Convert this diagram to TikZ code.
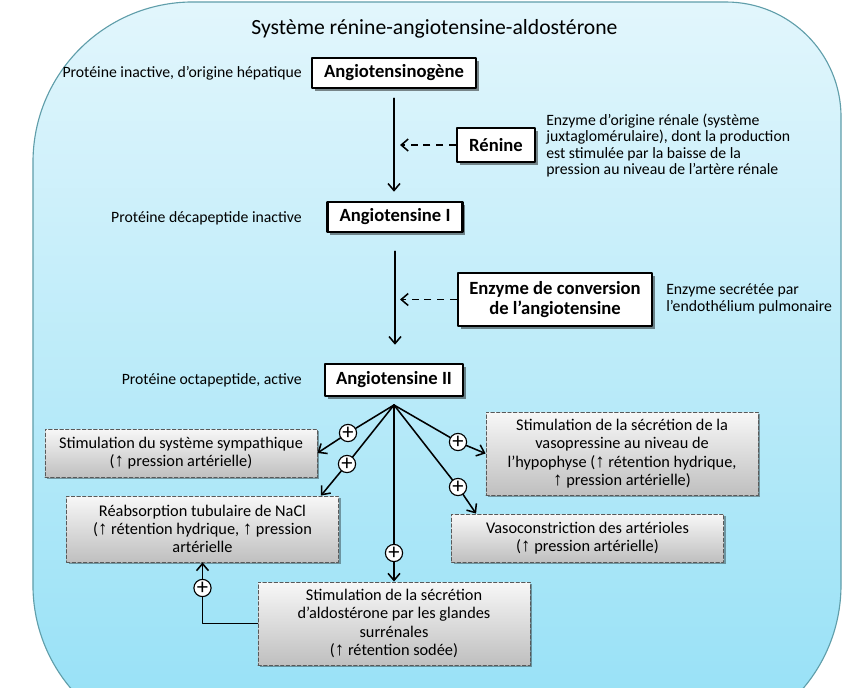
\documentclass[tikz,border=0pt]{standalone}
\usepackage{fontspec}
\setmainfont{Carlito}
\newfontfamily\arrowfont{Liberation Sans}[Scale=1.15]
\usetikzlibrary{arrows.meta,positioning,shadows,calc}
\definecolor{raasSkyTop}{RGB}{226,246,252}
\definecolor{raasSkyBot}{RGB}{148,224,246}
\definecolor{raasEdge}{RGB}{96,158,170}
\newcommand{\hausse}{{\arrowfont ↑}}

\begin{document}
\begin{tikzpicture}[x=0.025cm, y=-0.025cm, line cap=round, line join=round,
    mainbox/.style={draw=black, line width=1.8pt, fill=white, inner sep=0pt, align=center,
      font=\bfseries\fontsize{13.25}{13.8}\selectfont,
      drop shadow={shadow xshift=2pt, shadow yshift=-2pt, opacity=0.45, fill=black}},
    effectbox/.style={draw=black!65, dash pattern=on 2.5pt off 1.5pt, line width=0.6pt,
      top color=gray!6, bottom color=gray!50, inner sep=0pt, align=center,
      minimum width=6.8cm, font=\fontsize{11.6}{13}\selectfont,
      drop shadow={shadow xshift=1.5pt, shadow yshift=-1.5pt, opacity=0.35, fill=black}},
    note/.style={font=\fontsize{11.2}{11.6}\selectfont, align=left, inner sep=0pt},
    plus/.style={circle, draw=black, line width=0.8pt, fill=white, minimum size=0.43cm,
      inner sep=0pt, font=\fontsize{16}{16}\selectfont},
    link/.style={line width=1.1pt, -{Straight Barb[length=5pt,width=8.5pt]}},
    hint/.style={link, dash pattern=on 5pt off 4pt, line cap=butt}]
        \useasboundingbox (0,0) rectangle (842,687);
        % background panel
        \begin{scope}
            \clip (0,0) rectangle (842,687);
            \shadedraw[top color=raasSkyTop, bottom color=raasSkyBot, draw=raasEdge, line width=0.8pt]
                (33,162) arc[start angle=180,end angle=90,radius=4cm] -- (726,2)
                arc[start angle=90,end angle=0,radius=2.875cm] -- (841,585)
                arc[start angle=0,end angle=-90,radius=4cm] -- (193,745)
                arc[start angle=270,end angle=180,radius=4cm] -- cycle;
        \end{scope}
        \node[font=\fontsize{15.4}{17}\selectfont] (title) at (434.5,29) {Système rénine-angiotensine-aldostérone};
        % cascade
        \node[mainbox, minimum width=4.1cm, minimum height=0.75cm] (gen) at (394,73) {Angiotensinogène};
        \node[mainbox, minimum width=3.375cm, minimum height=0.75cm] (ang1) at (395,217) {Angiotensine I};
        \node[mainbox, minimum width=3.45cm, minimum height=0.8cm] (ang2) at (394,380) {Angiotensine II};
        \node[mainbox, minimum width=1.95cm, minimum height=0.85cm] (ren) at (496,145) {Rénine};
        \node[mainbox, minimum width=4.85cm, minimum height=1.325cm] (eca) at (555,299.5) {Enzyme de conversion\\de l’angiotensine};
        \node[note, anchor=east] (lab0) at (302,73) {Protéine inactive, d’origine hépatique};
        \node[note, anchor=east] (lab1) at (302,218) {Protéine décapeptide inactive};
        \node[note, anchor=east] (lab2) at (302,380) {Protéine octapeptide, active};
        \node[note, anchor=west] (rentxt) at (546,145.5) {Enzyme d’origine rénale (système\\juxtaglomérulaire), dont la production\\est stimulée par la baisse de la\\pression au niveau de l’artère rénale};
        \node[note, anchor=west] (ecatxt) at (666,299) {Enzyme secrétée par\\l’endothélium pulmonaire};
        % effects
        \node[effectbox, minimum height=1.2cm] (sym) at (181,453) {Stimulation du système sympathique\\(\hausse{} pression artérielle)};
        \node[effectbox, minimum height=1.65cm] (nacl) at (202.5,529) {Réabsorption tubulaire de NaCl\\(\hausse{} rétention hydrique, \hausse{} pression\\artérielle};
        \node[effectbox, minimum height=2.075cm] (aldo) at (394,623.5) {Stimulation de la sécrétion\\d’aldostérone par les glandes\\surrénales\\(\hausse{} rétention sodée)};
        \node[effectbox, minimum height=2.075cm] (vaso) at (622,453.5) {Stimulation de la sécrétion de la\\vasopressine au niveau de\\l’hypophyse (\hausse{} rétention hydrique,\\\hausse{} pression artérielle)};
        \node[effectbox, minimum height=1.2cm] (vcon) at (587.5,538) {Vasoconstriction des artérioles\\(\hausse{} pression artérielle)};
        \node[plus] (p1) at (348,433) {+};
        \node[plus] (p2) at (347,464) {+};
        \node[plus] (p3) at (394,553) {+};
        \node[plus] (p4) at (458,442) {+};
        \node[plus] (p5) at (458,487) {+};
        \node[plus] (p6) at (202.5,588) {+};
        % connectors
        \draw[link, shorten <=6.4pt, shorten >=6.4pt] (gen.south) -- (gen.south |- ang1.north);
        \draw[link, shorten <=12.8pt, shorten >=12.8pt] (ang1.south) -- (ang1.south |- ang2.north);
        \coordinate (rtip) at (400,145);
        \coordinate (etip) at (400,299.5);
        \draw[hint] (ren.west) -- (rtip);
        \draw[hint] (eca.west) -- (etip);
        \coordinate (hub) at (394,405);
        \foreach \p in {p1,p2,p3,p4,p5}
            \draw[line width=1.1pt] (hub) -- (\p);
        \draw[link] (p1) -- (sym.east);
        \draw[link] (p2) -- ([xshift=-0.45cm]nacl.north east);
        \draw[link] (p3) -- (aldo.north);
        \draw[link] (p4) -- (vaso.west);
        \draw[link] (p5) -- ([xshift=0.625cm]vcon.north west);
        \draw[line width=1.1pt] (aldo.west) -| (p6);
        \draw[link] (p6) -- (nacl.south);
    \end{tikzpicture}
\end{document}
